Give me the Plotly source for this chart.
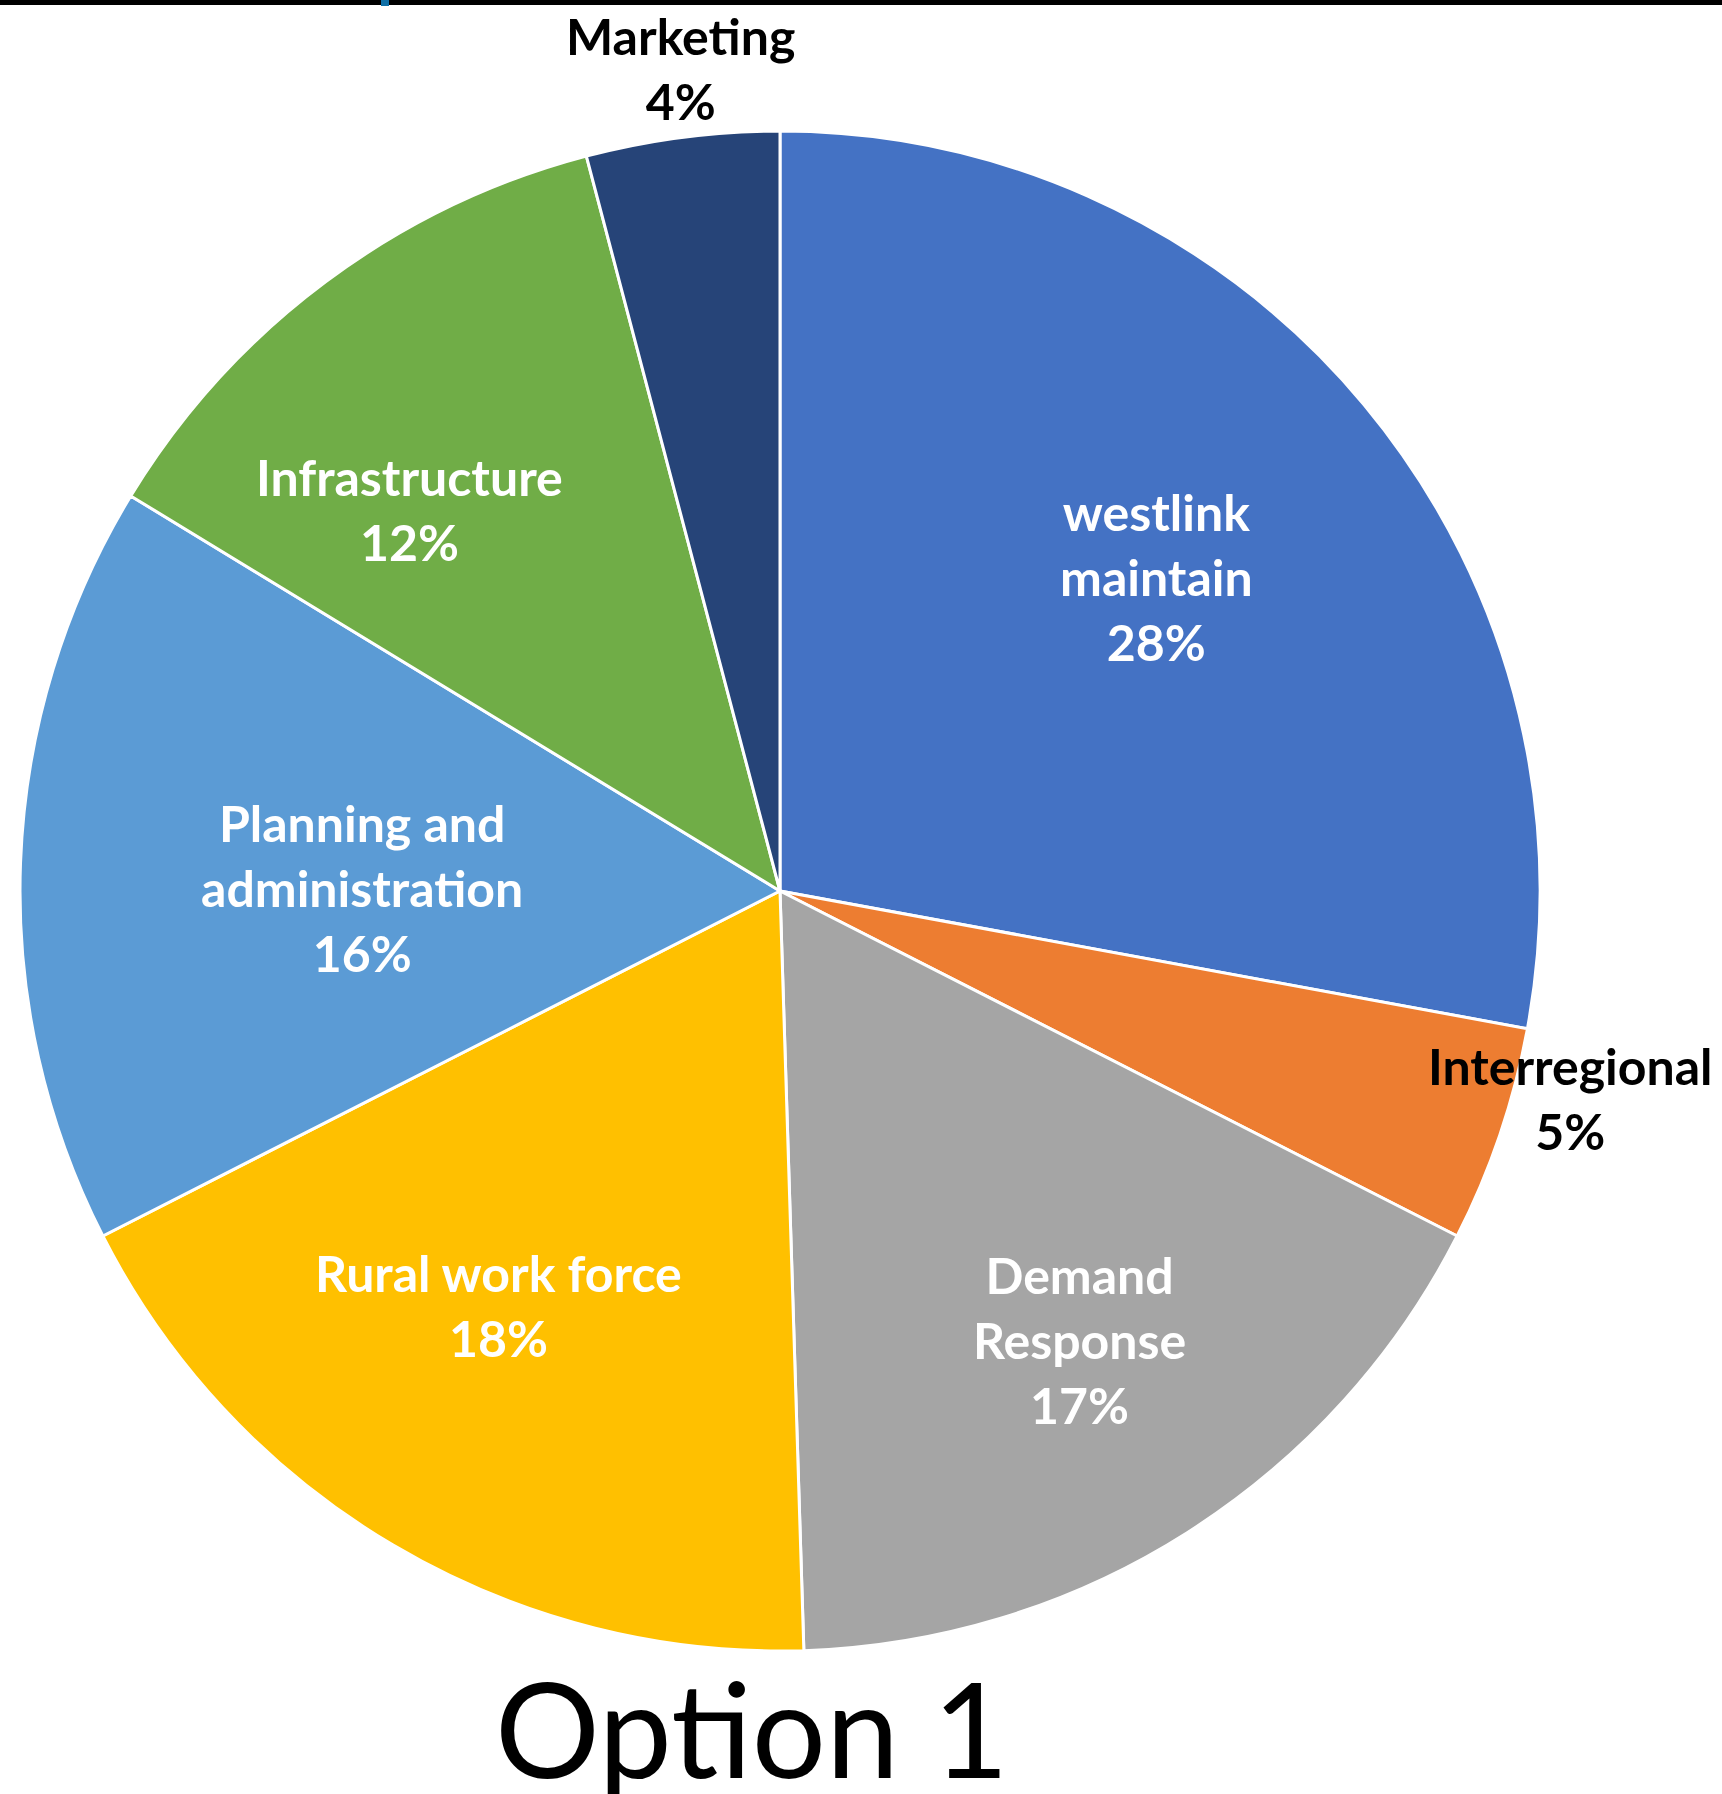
import math
import plotly.graph_objects as go

# ---- data ----
categories = ["westlink<br>maintain", "Interregional", "Demand<br>Response",
              "Rural work force", "Planning and<br>administration", "Infrastructure", "Marketing"]
values = [27.9, 4.6, 17.0, 18.0, 16.2, 12.2, 4.1]
colors = ["#4472C4", "#ED7D31", "#A5A5A5", "#FFC000", "#5B9BD5", "#70AD47", "#264478"]
title_text = "Option 1"

# ---- layout constants ----
W, H = 1722, 1794
CX, CY, R = 780, 891, 760  # pie centre / radius in pixels
label_style = [  # (angle tweak deg, radial fraction, inside?)
    (0.0, 0.645, True),
    (-4.0, 1.075, False),
    (-1.3, 0.71, True),
    (3.6, 0.66, True),
    (-1.8, 0.55, True),
    (-7.4, 0.70, True),
    (0.5, 1.09, False),
]
LABEL_FONT = "Lato"
LABEL_SIZE = 50

fig = go.Figure()
fig.add_trace(go.Pie(
    labels=categories, values=values, sort=False, direction="clockwise", rotation=0,
    marker=dict(colors=colors, line=dict(color="white", width=3)),
    textinfo="none", hoverinfo="label+percent", showlegend=False,
    domain=dict(x=[(CX - R) / W, (CX + R) / W], y=[(H - CY - R) / H, (H - CY + R) / H]),
))

total = sum(values)
cum = 0.0
annotations = []
for lab, v, (dth, frac, inside) in zip(categories, values, label_style):
    mid = (cum + v / 2) / total * 360.0 + dth
    cum += v
    px = CX + frac * R * math.sin(math.radians(mid))
    py = CY - frac * R * math.cos(math.radians(mid))
    pct = round(v / total * 100)
    annotations.append(dict(
        x=px / W, y=1 - py / H, xref="paper", yref="paper", xanchor="center", yanchor="middle",
        text=f"<b>{lab}<br>{pct}%</b>", showarrow=False,
        font=dict(family=LABEL_FONT, size=LABEL_SIZE, color="white" if inside else "black"),
    ))

annotations.append(dict(
    x=752 / W, y=0, xref="paper", yref="paper", xanchor="center", yanchor="bottom",
    yshift=-14, text=title_text, showarrow=False,
    font=dict(family="Lato", size=131, color="black"),
))

fig.update_layout(
    width=W, height=H, margin=dict(l=0, r=0, t=0, b=0),
    paper_bgcolor="white", plot_bgcolor="white",
    annotations=annotations,
    shapes=[
        dict(type="rect", xref="paper", yref="paper", x0=0, x1=1, y0=1 - 5 / H, y1=1,
             fillcolor="black", line=dict(width=0)),
        dict(type="rect", xref="paper", yref="paper", x0=381 / W, x1=389 / W, y0=1 - 6 / H, y1=1,
             fillcolor="#0E6FA6", line=dict(width=0)),
    ],
)

fig.write_html("out.html", config={"displayModeBar": False},
               post_script="document.body.style.margin='0';")
